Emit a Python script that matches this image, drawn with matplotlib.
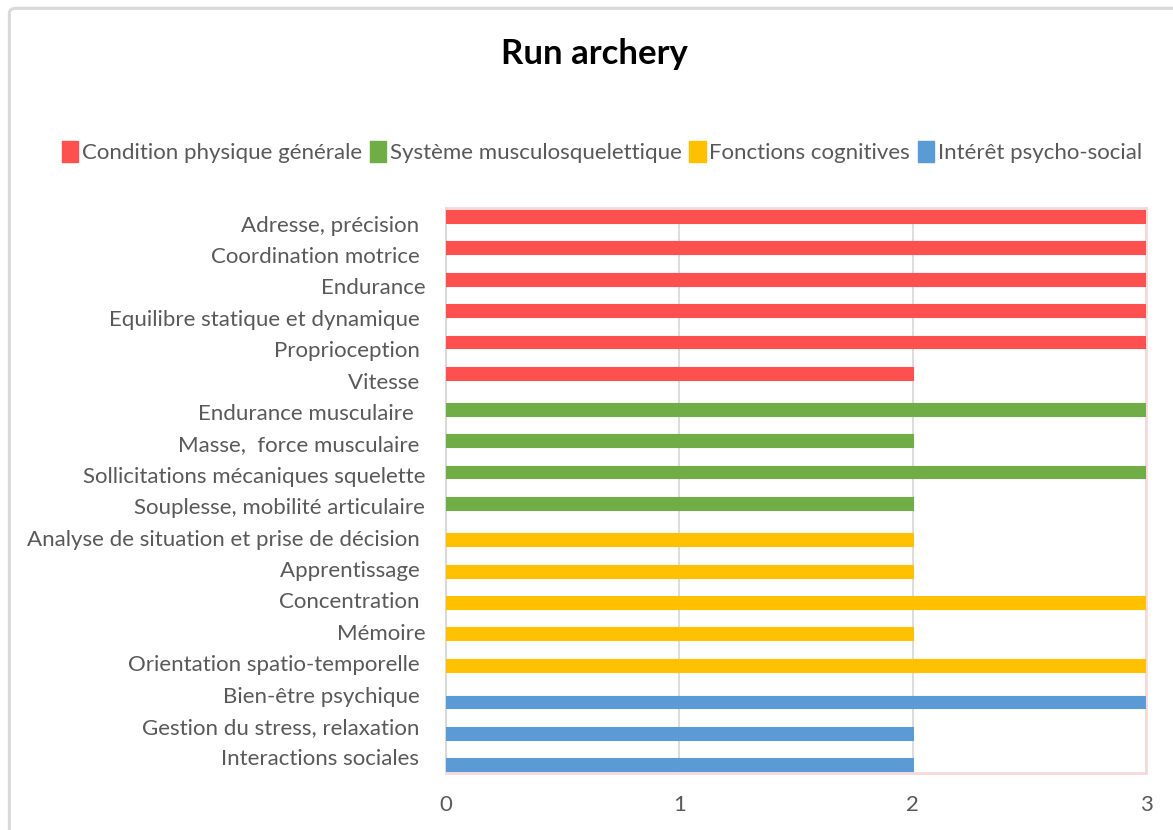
import matplotlib
matplotlib.use("Agg")
import matplotlib.pyplot as plt
import numpy as np
from matplotlib.patches import FancyBboxPatch, Patch

plt.rcParams['font.family'] = ['Lato', 'DejaVu Sans']

categories = [
    "Adresse, précision ", "Coordination motrice ", "Endurance",
    "Equilibre statique et dynamique ", "Proprioception ", "Vitesse ",
    "Endurance musculaire  ", "Masse,  force musculaire ",
    "Sollicitations mécaniques squelette", "Souplesse, mobilité articulaire",
    "Analyse de situation et prise de décision ", "Apprentissage ",
    "Concentration ", "Mémoire", "Orientation spatio-temporelle ",
    "Bien-être psychique ", "Gestion du stress, relaxation ",
    "Interactions sociales ",
]

series_names = ["Condition physique générale", "Système musculosquelettique",
                "Fonctions cognitives", "Intérêt psycho-social"]
series_colors = ["#FF5050", "#70AD47", "#FFC000", "#5B9BD5"]

# value per category for each series (None = no bar)
condition_physique = [3, 3, 3, 3, 3, 2] + [None] * 12
musculosquelettique = [None] * 6 + [3, 2, 3, 2] + [None] * 8
cognitives = [None] * 10 + [2, 2, 3, 2, 3] + [None] * 3
psycho_social = [None] * 15 + [3, 2, 2]

series_values = [condition_physique, musculosquelettique, cognitives, psycho_social]

fig = plt.figure(figsize=(11.73, 8.3), dpi=100)

# outer chart frame
frame = FancyBboxPatch((0.008, -0.05), 1.2, 1.04, boxstyle="round,pad=0,rounding_size=0.006",
                       transform=fig.transFigure, facecolor="white",
                       edgecolor="#D9D9D9", linewidth=2.2, zorder=-5)
fig.patches.append(frame)

ax = fig.add_axes([0.3802, 0.0687, 0.5968, 0.6807])
ax.set_facecolor("none")
ax.set_zorder(2)

y = np.arange(len(categories))
bar_h = 0.41
offsets = [-0.23, -0.09, 0.07, 0.24]

for vals, off, col in zip(series_values, offsets, series_colors):
    ys = [yi + off for yi, v in zip(y, vals) if v is not None]
    xs = [v for v in vals if v is not None]
    ax.barh(ys, xs, height=bar_h, color=col, edgecolor=col, linewidth=0.8,
            joinstyle="round", zorder=3)

ax.set_xlim(0, 3)
ax.set_ylim(len(categories) - 0.5, -0.5)
ax.set_xticks([0, 1, 2, 3])
ax.set_yticks(y)
ax.set_yticklabels(categories)
ax.tick_params(axis="both", length=0, labelsize=16, labelcolor="#595959")
ax.tick_params(axis="y", pad=15)
ax.tick_params(axis="x", pad=16)

ax.grid(axis="x", color="#D9D9D9", linewidth=1.3, zorder=1)
for s in ["top", "right", "bottom"]:
    ax.spines[s].set_color("#F8D9DA")
    ax.spines[s].set_linewidth(2)
ax.spines["left"].set_color("#D9D9D9")
ax.spines["left"].set_linewidth(1.5)

fig.text(0.507, 0.935, "Run archery", ha="center", va="center",
         fontsize=25, fontweight="bold", color="black")

handles = [Patch(facecolor=c, edgecolor=c) for c in series_colors]
fig.legend(handles, series_names, loc="center", bbox_to_anchor=(0.513, 0.817),
           ncol=4, frameon=False, fontsize=16, labelcolor="#595959",
           handlelength=0.75, handleheight=1.1, handletextpad=0.15,
           columnspacing=0.35)

fig.savefig("out.png", dpi=100)
